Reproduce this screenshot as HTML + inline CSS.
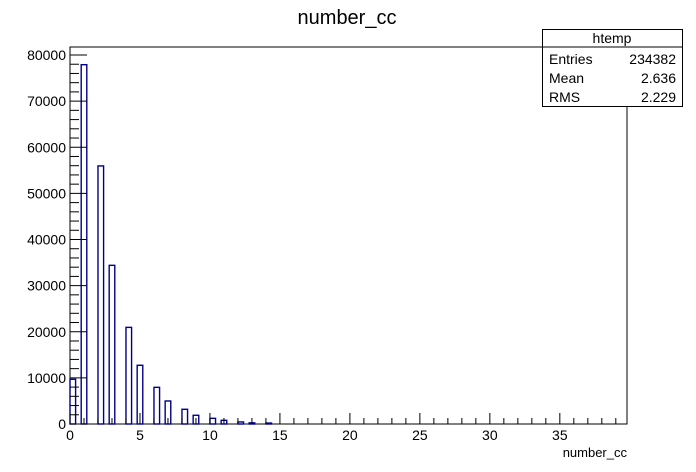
<!DOCTYPE html>
<html><head><meta charset="utf-8"><style>
body{margin:0;background:#fff;}
svg{display:block;font-family:"Liberation Sans",Arial,sans-serif;}
</style></head><body>
<svg id="c" width="696" height="472">
<text x="347" y="24" font-size="20" text-anchor="middle">number_cc</text>
<rect x="70" y="47" width="557" height="377" fill="none" stroke="#000" stroke-width="1"/>
<g id="bars"></g>
<g id="axes"></g>
<text x="627" y="457" font-size="13" text-anchor="end">number_cc</text>
<g>
<rect x="542.5" y="29.5" width="140" height="77" fill="#fff" stroke="#000"/>
<line x1="542.5" y1="47" x2="682.5" y2="47" stroke="#000"/>
<text x="612" y="43" font-size="14" text-anchor="middle">htemp</text>
<text x="549" y="64" font-size="14">Entries</text><text x="676" y="64" font-size="14" text-anchor="end">234382</text>
<text x="549" y="83" font-size="14">Mean</text><text x="676" y="83" font-size="14" text-anchor="end">2.636</text>
<text x="549" y="102" font-size="14">RMS</text><text x="676" y="102" font-size="14" text-anchor="end">2.229</text>
</g>
</svg>
<script>
const binStarts=[0,0.8,2.0,2.8,4.0,4.8,6.0,6.8,8.0,8.8,10.0,10.8,12.0,12.8,14.0];
const counts=[9700,77900,55950,34400,20950,12730,7950,4990,3190,1890,1230,800,440,250,200];
const xTicks=[0,5,10,15,20,25,30,35];
const yTicks=[0,10000,20000,30000,40000,50000,60000,70000,80000];
const binWidth=0.4;
const NS="http://www.w3.org/2000/svg";
const X0=70,X1=627,Y0=424,Y1=47;
const xs=v=>X0+v*(X1-X0)/39.8;
const ys=v=>Y0-v*369/80000;
const bars=document.getElementById('bars'),axes=document.getElementById('axes');
function mk(tag,attrs,parent){const e=document.createElementNS(NS,tag);for(const k in attrs)e.setAttribute(k,attrs[k]);parent.appendChild(e);return e;}
binStarts.forEach((b,i)=>{
 const x=xs(b),w=xs(b+binWidth)-x,y=ys(counts[i]);
 const r=mk('rect',{x:x,y:y,width:w,height:Y0-y,fill:'none',stroke:'#00008b','stroke-width':1.4},bars);
 
 
});
for(let v=0;v<=39;v++){
 const x=xs(v),major=v%5===0;
 mk('line',{x1:x,y1:Y0,x2:x,y2:Y0-(major?11:6),stroke:'#000'},axes);
}
xTicks.forEach(v=>{
 const t=mk('text',{x:xs(v),y:440,'font-size':14,'text-anchor':'middle'},axes);t.textContent=v;
 
 
});
for(let v=0;v<=82000;v+=2000){
 const y=ys(v);if(y<Y1)break;const major=v%10000===0;
 mk('line',{x1:X0,y1:y,x2:X0+(major?17:9),y2:y,stroke:'#000'},axes);
}
yTicks.forEach(v=>{
 const t=mk('text',{x:66,y:ys(v)+5,'font-size':14,'text-anchor':'end'},axes);t.textContent=v;
 
 
});
</script>
</body></html>
